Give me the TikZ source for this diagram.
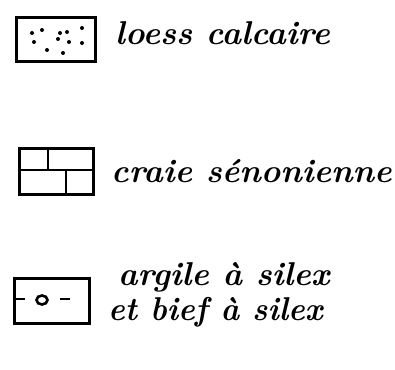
\documentclass[tikz,border=0pt]{standalone}
\begin{document}
\begin{tikzpicture}[x=1pt,y=-1pt,
  legbox/.style={line width=3pt},
  inner/.style={line width=2.6pt},
  hand/.style={font=\fontsize{33}{36}\selectfont\bfseries\itshape, inner sep=0pt, anchor=base west},
  dot/.style={fill=black, circle, inner sep=0pt, minimum size=4pt}]
\useasboundingbox (0,0) rectangle (395,369);
% box 1: loess
\draw[legbox] (16,18) rectangle (95,61);
\foreach \p in {(42,30),(34,42),(47,50),(60,33),(67,32),(58,39),(69,42),(82,28),(82,43),(63,53),(32,33)}
  \node[dot] at \p {};
\node[hand] (t1) at (115,45) {loess calcaire};
% box 2: craie
\draw[legbox] (19,148) rectangle (93,194);
\draw[inner] (19,170) -- (93,170);
\draw[inner] (48,148) -- (48,170);
\draw[inner] (66,170) -- (66,194);
\node[hand] (t2) at (111,182) {craie sénonienne};
% box 3: argile
\draw[legbox] (14,278) rectangle (89,323);
\draw[inner] (16,299) -- (25,299);
\draw[inner] (42,300) ellipse (5.5pt and 4.5pt);
\draw[inner] (60,299) -- (70,299);
\node[hand] (t3) at (118,285) {argile à silex};
\node[hand] (t4) at (108,320) {\scalebox{0.955}[1]{et bief à silex}};
\end{tikzpicture}
\end{document}
